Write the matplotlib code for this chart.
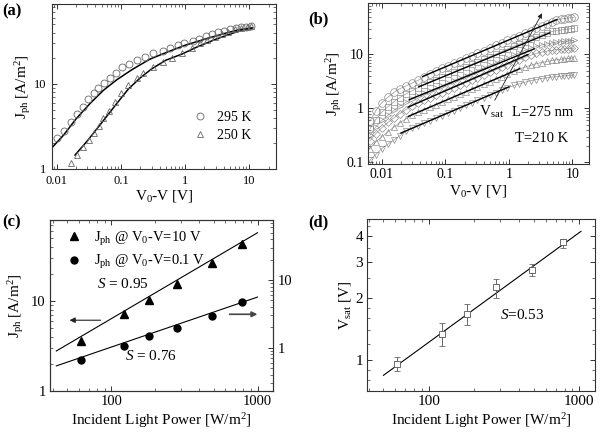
import matplotlib
matplotlib.use('Agg')
import matplotlib.pyplot as plt
from matplotlib.ticker import NullFormatter, LogLocator

plt.rcParams['font.family'] = ['Liberation Serif', 'DejaVu Serif']
plt.rcParams['mathtext.fontset'] = 'custom'
plt.rcParams['mathtext.rm'] = 'Liberation Serif'
plt.rcParams['mathtext.it'] = 'Liberation Serif:italic'
plt.rcParams['axes.linewidth'] = 0.8
plt.rcParams['axes.edgecolor'] = '#333333'

# ---- (a) Jph vs V0-V at two temperatures
a_x_295 = [0.0102, 0.0129, 0.0167, 0.0204, 0.0254, 0.031, 0.038, 0.0444, 0.0545, 0.0676,
           0.083, 0.103, 0.134, 0.18, 0.238, 0.32, 0.449, 0.583, 0.77, 0.975, 1.32, 1.67,
           2.1, 2.6, 3.3, 4.06, 5.0, 6.25, 7.5, 8.9, 10.5]
a_y_295 = [2.30, 2.82, 3.6, 4.4, 5.4, 6.6, 7.9, 9.0, 10.2, 11.7, 13.4, 15.7, 17.2, 19.2,
           20.9, 23.0, 24.6, 26.3, 28.5, 30.1, 32, 34.1, 36.7, 38.7, 40.9, 42.4, 44.4,
           45.6, 46.4, 47.2, 47.8]
a_x_250 = [0.0165, 0.0209, 0.0259, 0.0318, 0.0384, 0.046, 0.053, 0.066, 0.081, 0.1, 0.13,
           0.176, 0.223, 0.32, 0.45, 0.62, 0.91, 1.27, 1.71, 2.23, 2.94, 3.74, 4.73, 6.0,
           7.4, 9.2, 10.8]
a_y_250 = [1.17, 1.46, 1.83, 2.19, 2.63, 3.2, 3.95, 4.85, 6.1, 7.8, 9.7, 11.7, 13.6, 16,
           18.3, 20.1, 23, 26.3, 30.1, 33, 35.4, 38.4, 41.2, 44, 45.9, 47.2, 48]
a_fit_x_295 = [0.0085, 0.0127, 0.02, 0.033, 0.053, 0.086, 0.15, 0.28, 0.55, 1.0, 2.0, 4.0, 7.0, 11]
a_fit_y_295 = [1.8, 2.5, 3.9, 5.9, 8.4, 11.2, 14.8, 19.5, 24, 28.5, 33.5, 39, 43.5, 45.5]
a_fit_x_250 = [0.0192, 0.03, 0.05, 0.08, 0.13, 0.2, 0.3, 0.5, 0.9, 1.5, 3, 5, 8, 11]
a_fit_y_250 = [1.46, 2.15, 3.5, 5.5, 8.7, 11.8, 15, 19, 22.5, 27, 33.5, 38.5, 43.5, 45.5]

# ---- (b) Jph vs V0-V for six light intensities
b_x = [0.0065, 0.008, 0.01, 0.0125, 0.0155, 0.019, 0.024, 0.03, 0.037, 0.046, 0.057, 0.071,
       0.088, 0.11, 0.135, 0.17, 0.21, 0.26, 0.32, 0.4, 0.5, 0.62, 0.77, 0.95, 1.2, 1.45,
       1.8, 2.2, 2.7, 3.3, 4.0, 4.8, 5.6, 6.5, 7.5, 8.5, 9.5, 10.5]
b_y1 = [0.58, 0.9, 1.28, 1.62, 1.97, 2.3, 2.6, 2.95, 3.3, 3.85, 4.4, 4.95, 5.5, 6.15, 6.8,
        7.65, 8.5, 9.45, 10.5, 11.7, 13.1, 14.6, 16.3, 18.1, 20.3, 22.3, 24.9, 27.5, 30.5,
        33.5, 36.8, 40, 42.5, 44.5, 46, 47, 47.8, 48.5]
b_y2 = [0.42, 0.62, 0.85, 1.08, 1.33, 1.58, 1.85, 2.12, 2.42, 2.75, 3.06, 3.42, 3.8, 4.25,
        4.71, 5.29, 5.88, 6.54, 7.25, 8.1, 9.07, 10.1, 11.25, 12.5, 14.05, 15.4, 17.2, 19.0,
        21.0, 23.2, 25.2, 26.5, 27.3, 28, 28.7, 29.3, 29.8, 30.2]
b_y3 = [0.32, 0.45, 0.6, 0.75, 0.92, 1.1, 1.3, 1.5, 1.7, 1.89, 2.11, 2.35, 2.62, 2.93, 3.24,
        3.64, 4.04, 4.5, 4.99, 5.58, 6.24, 6.95, 7.74, 8.6, 9.67, 10.6, 11.8, 13.0, 14.0,
        14.9, 15.6, 16.2, 16.7, 17.1, 17.4, 17.7, 17.9, 18.1]
b_y4 = [0.25, 0.34, 0.44, 0.55, 0.67, 0.8, 0.95, 1.12, 1.26, 1.41, 1.57, 1.75, 1.95, 2.18,
        2.42, 2.71, 3.01, 3.35, 3.72, 4.16, 4.65, 5.18, 5.77, 6.41, 7.2, 7.92, 8.8, 9.6,
        10.4, 11.0, 11.5, 11.9, 12.2, 12.4, 12.6, 12.8, 12.9, 13.0]
b_y5 = [0.18, 0.24, 0.3, 0.37, 0.45, 0.54, 0.64, 0.76, 0.85, 0.94, 1.05, 1.17, 1.31, 1.46,
        1.62, 1.82, 2.02, 2.25, 2.49, 2.78, 3.11, 3.47, 3.86, 4.29, 4.82, 5.3, 5.8, 6.25,
        6.7, 7.05, 7.4, 7.7, 7.9, 8.1, 8.25, 8.4, 8.5, 8.6]
b_y6 = [0.11, 0.14, 0.18, 0.22, 0.26, 0.31, 0.38, 0.43, 0.48, 0.53, 0.59, 0.66, 0.73, 0.82,
        0.91, 1.02, 1.13, 1.26, 1.4, 1.57, 1.75, 1.95, 2.17, 2.41, 2.65, 2.85, 3.05, 3.25,
        3.42, 3.57, 3.7, 3.8, 3.88, 3.95, 4.0, 4.05, 4.1, 4.15]
b_series = [b_y1, b_y2, b_y3, b_y4, b_y5, b_y6]
b_markers = ['o', 's', '>', 'D', '^', 'v']
b_msize = [5.5, 5, 5, 4.5, 4.5, 4]
# fit lines (slope 1/2) : start x, start y, end x, end y
b_fit_x0 = [0.044, 0.038, 0.027, 0.026, 0.026, 0.02]
b_fit_y0 = [3.9, 2.5, 1.45, 1.06, 0.71, 0.35]
b_fit_x1 = [5.7, 4.4, 2.5, 2.0, 1.47, 1.0]
b_fit_y1 = [44, 24.9, 12.6, 9.9, 5.4, 2.5]

# ---- (c) Jph vs light power
power = [62, 122, 180, 280, 490, 780]
jph_10V = [3.62, 7.17, 10.3, 15.3, 26.6, 43]
jph_01V = [0.665, 1.06, 1.49, 1.93, 2.97, 4.67]
c_fit_p = [42, 1000]
c_fit_10V = [2.78, 57]
c_fit_01V = [0.54, 5.6]

# ---- (d) Vsat vs light power
vsat = [0.96, 1.34, 1.68, 2.26, 2.74, 3.74]
vsat_lo = [0.89, 1.17, 1.48, 2.0, 2.56, 3.52]
vsat_hi = [1.04, 1.52, 1.885, 2.49, 2.92, 3.9]
d_fit_p = [50, 1030]
d_fit_v = [0.846, 4.23]


def style(ax, size):
    ax.tick_params(which='both', direction='in', top=True, right=True, labelsize=size,
                   color='#333333', pad=3)
    ax.tick_params(which='major', length=3.5, width=0.7)
    ax.tick_params(which='minor', length=2, width=0.5)


fig = plt.figure(figsize=(6, 4.33), dpi=100)

# (a)
ax = fig.add_axes([0.0867, 0.6097, 0.373, 0.381])
ax.set_xscale('log')
ax.set_yscale('log')
ax.plot(a_fit_x_295, a_fit_y_295, color='k', lw=1.1)
ax.plot(a_fit_x_250, a_fit_y_250, color='k', lw=1.1)
ax.plot(a_x_295, a_y_295, 'o', mfc='none', mec='#666666', ms=5, mew=0.6, label='295 K')
ax.plot(a_x_250, a_y_250, '^', mfc='none', mec='#666666', ms=5, mew=0.6, label='250 K')
ax.set_xlim(0.0084, 26)
ax.set_ylim(1, 87)
ax.set_xticks([0.01, 0.1, 1, 10], ['0.01', '0.1', '1', '10'])
ax.set_yticks([1, 10], ['1', '10'])
ax.xaxis.set_minor_formatter(NullFormatter())
ax.yaxis.set_minor_formatter(NullFormatter())
style(ax, 9)
ax.tick_params(axis='x', pad=4)
ax.tick_params(axis='y', pad=4)
ax.set_xlabel(r'V$_0$-V [V]', fontsize=11, labelpad=1)
ax.set_ylabel(r'J$_{\rm ph}$ [A/m$^2$]', fontsize=11, labelpad=1)
ax.legend(loc='center left', bbox_to_anchor=(0.57, 0.26), frameon=False, fontsize=10,
          handletextpad=0.6, labelspacing=0.35, handlelength=1.2)
fig.text(0.003, 0.965, '(a)', fontsize=12, fontweight='bold')

# (b)
ax = fig.add_axes([0.613, 0.621, 0.368, 0.372])
ax.set_xscale('log')
ax.set_yscale('log')
for ys, m, s in zip(b_series, b_markers, b_msize):
    ax.plot(b_x, ys, '-', color='#999999', lw=0.5, marker=m, ms=s, mfc='none',
            mec='#808080', mew=0.45)
for x0, y0, x1, y1 in zip(b_fit_x0, b_fit_y0, b_fit_x1, b_fit_y1):
    ax.plot([x0, x1], [y0, y1], color='k', lw=1.0)
ax.annotate('', xy=(3.5, 64), xytext=(0.57, 1.27),
            arrowprops=dict(arrowstyle='-|>', color='#222222', lw=0.6, mutation_scale=7))
ax.text(0.505, 0.3, r'V$_{\rm sat}$', transform=ax.transAxes, fontsize=11)
ax.text(0.655, 0.3, 'L=275 nm', transform=ax.transAxes, fontsize=10.5)
ax.text(0.665, 0.14, 'T=210 K', transform=ax.transAxes, fontsize=10.5)
ax.set_xlim(0.006, 18)
ax.set_ylim(0.093, 89)
ax.set_xticks([0.01, 0.1, 1, 10], ['0.01', '0.1', '1', '10'])
ax.set_yticks([0.1, 1, 10], ['0.1', '1', '10'])
ax.xaxis.set_minor_formatter(NullFormatter())
ax.yaxis.set_minor_formatter(NullFormatter())
style(ax, 10)
ax.set_xlabel(r'V$_0$-V [V]', fontsize=11, labelpad=1)
ax.set_ylabel(r'J$_{\rm ph}$ [A/m$^2$]', fontsize=11, labelpad=2)
fig.text(0.513, 0.945, '(b)', fontsize=12, fontweight='bold')

# (c)
ax = fig.add_axes([0.0833, 0.097, 0.372, 0.395])
ax2 = ax.twinx()
for a in (ax, ax2):
    a.set_xscale('log')
    a.set_yscale('log')
ax.plot(c_fit_p, c_fit_10V, color='k', lw=0.8)
ax2.plot(c_fit_p, c_fit_01V, color='k', lw=0.8)
h1, = ax.plot(power, jph_10V, '^', color='k', ms=5.5)
h2, = ax2.plot(power, jph_01V, 'o', color='k', ms=5)
ax.set_xlim(38, 1280)
ax.set_ylim(1, 79)
ax2.set_ylim(0.23, 77)
ax.set_xticks([100, 1000], ['100', '1000'])
ax.set_yticks([1, 10], ['1', '10'])
ax2.set_yticks([1, 10], ['1', '10'])
for a in (ax, ax2):
    a.xaxis.set_minor_formatter(NullFormatter())
    a.yaxis.set_minor_formatter(NullFormatter())
style(ax, 10.5)
ax.tick_params(which='both', right=False)
ax2.tick_params(which='both', direction='in', labelsize=10.5, color='#333333')
ax2.tick_params(which='major', length=3.5, width=0.7)
ax2.tick_params(which='minor', length=2, width=0.5)
ax.annotate('', xy=(49.5, 6.1), xytext=(88, 6.1),
            arrowprops=dict(arrowstyle='-|>', color='#222222', lw=0.8, mutation_scale=8))
ax.annotate('', xy=(1043, 7.1), xytext=(617, 7.1),
            arrowprops=dict(arrowstyle='-|>', color='#444444', lw=1.2, mutation_scale=8))
ax.text(0.21, 0.6, r'$S$ = 0.95', transform=ax.transAxes, fontsize=11)
ax.text(0.336, 0.18, r'$S$ = 0.76', transform=ax.transAxes, fontsize=11)
ax.legend([h1, h2], [r'J$_{\rm ph}$ @ V$_0$-V=10 V', r'J$_{\rm ph}$ @ V$_0$-V=0.1 V'],
          loc='upper left', bbox_to_anchor=(0.0, 1.02), frameon=False, fontsize=10.5,
          handletextpad=0.6, labelspacing=0.35, handlelength=1.5)
ax.set_xlabel(r'Incident Light Power [W/m$^2$]', fontsize=11, labelpad=2)
ax.set_ylabel(r'J$_{\rm ph}$ [A/m$^2$]', fontsize=11, labelpad=4)
fig.text(0.003, 0.478, '(c)', fontsize=12, fontweight='bold')

# (d)
ax = fig.add_axes([0.612, 0.097, 0.38, 0.397])
ax.set_xscale('log')
ax.set_yscale('log')
ax.plot(d_fit_p, d_fit_v, color='k', lw=0.8)
err_lo = [v - lo for v, lo in zip(vsat, vsat_lo)]
err_hi = [hi - v for v, hi in zip(vsat, vsat_hi)]
ax.errorbar(power, vsat, yerr=[err_lo, err_hi], fmt='s', mfc='white', mec='#555555',
            ms=4.5, mew=0.6, ecolor='#666666', elinewidth=0.7, capsize=2, capthick=0.6)
ax.set_xlim(39, 1280)
ax.set_ylim(0.71, 4.85)
ax.set_xticks([100, 1000], ['100', '1000'])
ax.set_yticks([1, 2, 3, 4], ['1', '2', '3', '4'])
ax.yaxis.set_minor_locator(LogLocator(subs=[0.8, 0.9, 1.2, 1.4, 1.6, 1.8, 2.5, 3.5, 4.5],
                                      numticks=20))
ax.xaxis.set_minor_formatter(NullFormatter())
ax.yaxis.set_minor_formatter(NullFormatter())
style(ax, 11)
ax.text(0.583, 0.42, r'$S$=0.53', transform=ax.transAxes, fontsize=11)
ax.set_xlabel(r'Incident Light Power [W/m$^2$]', fontsize=11, labelpad=2)
ax.set_ylabel(r'V$_{\rm sat}$ [V]', fontsize=11, labelpad=2)
fig.text(0.513, 0.478, '(d)', fontsize=12, fontweight='bold')

fig.savefig('out.png', dpi=100)
